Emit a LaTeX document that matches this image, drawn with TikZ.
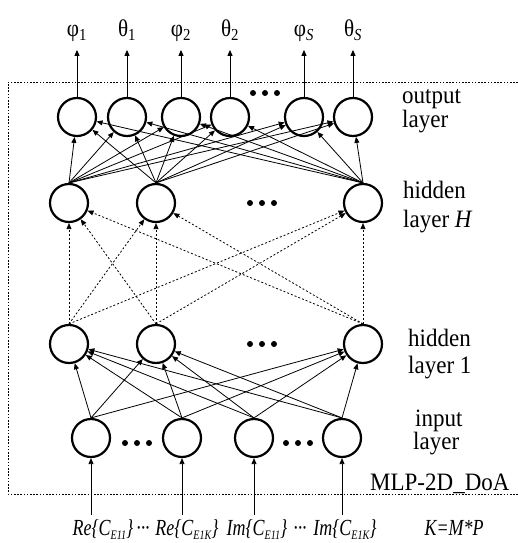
\documentclass[tikz,border=0pt]{standalone}
\usepackage{fontspec}
\usepackage{graphicx}
\setmainfont{Liberation Serif}
\usetikzlibrary{arrows.meta}
\newcommand\narrow[2]{\scalebox{#1}[1]{#2}}
\newcommand\sbs[1]{\raisebox{-0.45ex}{\fontsize{13}{14}\selectfont #1}}
\begin{document}
\begin{tikzpicture}[x=1pt,y=-1pt,
  neuron/.style={circle,draw,line width=2.2pt,minimum size=38pt,inner sep=0pt},
  link/.style={line width=0.8pt,-{Triangle[length=6pt,width=5pt]}},
  dlink/.style={link,dash pattern=on 2pt off 2pt},
  lbl/.style={anchor=base west,inner sep=0pt,font=\fontsize{25}{28}\selectfont},
  outlbl/.style={anchor=base,inner sep=0pt,font=\fontsize{24}{26}\selectfont},
  inlbl/.style={anchor=base,inner sep=0pt,font=\fontsize{23}{26}\selectfont\itshape},
  dot/.style={circle,fill,inner sep=0pt,minimum size=6pt}]
\useasboundingbox (0,0) rectangle (518,543);

% outer dotted frame (open on the right)
\draw[line width=0.9pt,dash pattern=on 1.6pt off 1.6pt]
  (518,82) -- (8,82) -- (8,494) -- (518,494);

% output layer
\foreach \n/\x in {o1/77,o2/127,o3/181,o4/230,o5/304,o6/353}
  \node[neuron] (\n) at (\x,117) {};
% hidden layer H
\foreach \n/\x in {h1/69,h2/156,h3/363}
  \node[neuron] (\n) at (\x,203) {};
% hidden layer 1
\foreach \n/\x in {g1/69,g2/156,g3/363}
  \node[neuron] (\n) at (\x,344) {};
% input layer
\foreach \n/\x in {i1/91,i2/182,i3/254,i4/342}
  \node[neuron] (\n) at (\x,438) {};

% ellipsis dots
\foreach \x in {253,265,277} \node[dot] at (\x,93) {};
\foreach \x in {250,262,274} \node[dot] at (\x,203) {};
\foreach \x in {250,262,274} \node[dot] at (\x,344) {};
\foreach \x in {125,137,149} \node[dot] at (\x,443) {};
\foreach \x in {286,298,310} \node[dot] at (\x,443) {};

% connections
\foreach \s in {h1,h2,h3}
  \foreach \t in {o1,o2,o3,o4,o5,o6}
    \draw[link] (\s.north) -- (\t);
\foreach \s in {g1,g2,g3}
  \foreach \t in {h1,h2,h3}
    \draw[dlink] (\s.north) -- (\t);
\foreach \s in {i1,i2,i3,i4}
  \foreach \t in {g1,g2,g3}
    \draw[link] (\s.north) -- (\t);

% outputs
\foreach \n/\t in {o1/{φ\textsubscript{1}},o2/{θ\textsubscript{1}},o3/{φ\textsubscript{2}},
                  o4/{θ\textsubscript{2}},o5/{φ\textsubscript{\textit{S}}},o6/{θ\textsubscript{\textit{S}}}} {
  \coordinate (\n t) at ([yshift=47pt]\n.north);
  \draw[link] (\n.north) -- (\n t);
  \node[outlbl] at ([yshift=13pt]\n t) {\narrow{0.88}{\t}};
}

% inputs
\foreach \n in {i1,i2,i3,i4} {
  \coordinate (\n b) at ([yshift=-57pt]\n.south);
  \draw[link] (\n b) -- (\n.south);
}
\node[inlbl] (r1) at (103,535) {\narrow{0.78}{Re\{C\sbs{E11}\}}};
\node[inlbl] (e1) at (143,535) {\narrow{0.78}{\textperiodcentered\textperiodcentered\textperiodcentered}};
\node[inlbl] (r2) at (187,535) {\narrow{0.78}{Re\{C\sbs{E1K}\}}};
\node[inlbl] (m1) at (257,535) {\narrow{0.78}{Im\{C\sbs{E11}\}}};
\node[inlbl] (e2) at (300,535) {\narrow{0.78}{\textperiodcentered\textperiodcentered\textperiodcentered}};
\node[inlbl] (m2) at (345,535) {\narrow{0.78}{Im\{C\sbs{E1K}\}}};
\node[inlbl] (kk) at (454,535) {\narrow{0.78}{K=M*P}};

% layer names
\node[lbl] at (402,103) {\narrow{0.92}{output}};
\node[lbl] at (402,127) {\narrow{0.92}{layer}};
\node[lbl] at (403,198) {\narrow{0.92}{hidden}};
\node[lbl] at (403,227) {\narrow{0.92}{layer \textit{H}}};
\node[lbl] at (408,346) {\narrow{0.92}{hidden}};
\node[lbl] at (408,373) {\narrow{0.92}{layer 1}};
\node[lbl] at (415,426) {\narrow{0.92}{input}};
\node[lbl] at (413,449) {\narrow{0.92}{layer}};
\node[lbl] at (370,490) {\narrow{0.92}{MLP-2D\_DoA}};
\end{tikzpicture}
\end{document}
